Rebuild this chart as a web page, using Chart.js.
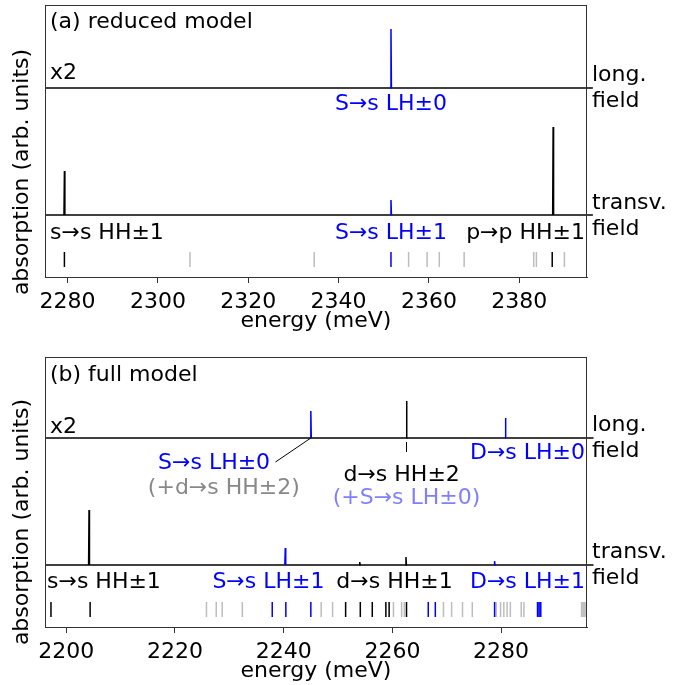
<!DOCTYPE html>
<html><head><meta charset="utf-8">
<script src="https://cdn.jsdelivr.net/npm/chart.js@4.4.1/dist/chart.umd.min.js"></script>
<style>
html,body{margin:0;padding:0;background:#fff;}
#wrap{position:relative;width:685px;height:685px;background:#fff;}
canvas{position:absolute;left:0;}
</style></head><body>
<div id="wrap">
<canvas id="ca" width="685" height="345" style="top:0px"></canvas>
<canvas id="cb" width="685" height="340" style="top:345px"></canvas>
</div>
<script>
// ---------------- data ----------------
// x tick labels (meV)
const ticksA = [2280, 2300, 2320, 2340, 2360, 2380];
const ticksB = [2200, 2220, 2240, 2260, 2280];

// panel (a) reduced model: peak energies (meV), heights (arb.), colours
const aLongE = [2351.6];
const aLongH = [59];
const aLongC = ['blue'];
const aTransE = [2279.3, 2351.6, 2387.5];
const aTransH = [44, 15, 88];
const aTransC = ['black', 'blue', 'black'];
// transition sticks (meV)
const aStickBlack = [2279.3, 2387.3];
const aStickBlue = [2351.6];
const aStickGray = [2307.1, 2334.6, 2355.5, 2359.6, 2362.3, 2367.8, 2383.2, 2383.8, 2390.0];

// panel (b) full model
const bLongE = [2245.0, 2262.6, 2280.8];
const bLongH = [27, 37, 20];
const bLongC = ['blue', 'black', 'blue'];
const bTransE = [2204.2, 2240.3, 2254.0, 2262.5, 2278.8];
const bTransH = [55, 17, 3, 8, 4];
const bTransC = ['black', 'blue', 'black', 'black', 'blue'];
const bStickBlack = [2197.2, 2204.4, 2251.4, 2254.1, 2256.3, 2258.8, 2259.4, 2262.6];
const bStickBlue = [2237.9, 2240.4, 2245.0, 2266.6, 2267.9, 2278.8, 2286.7, 2287.0, 2287.3];
const bStickGray = [2225.8, 2227.6, 2228.7, 2232.4, 2246.9, 2249.0, 2260.2, 2261.7, 2262.2,
  2269.4, 2270.9, 2272.9, 2274.7, 2279.1, 2279.9, 2280.5, 2281.1, 2281.7, 2283.7, 2284.2,
  2294.8, 2295.1, 2295.4, 2295.7];

// ---------------- styling / layout ----------------
const FONT = 'DejaVu Sans';
const FS = 22;
const BLUE = '#0000ff';
const GRAYSTICK = '#bdbdbd';
const LONG_BASE = 189, TRANS_BASE = 62, STICK_LO = 10, STICK_HI = 25;

function colorOf(c){ return c === 'blue' ? BLUE : '#000000'; }

function peakSets(E, H, C, base, hw){
  return E.map((e, i) => ({
    data: [{x: e - hw, y: base}, {x: e, y: base + H[i]}, {x: e + hw, y: base}],
    borderColor: colorOf(C[i]), borderWidth: 1.5, showLine: true, pointRadius: 0,
    tension: 0, clip: false, order: 1
  }));
}
function baseSet(xmin, xend, base){
  return {data: [{x: xmin, y: base}, {x: xend, y: base}], borderColor: '#000', borderWidth: 1.5,
    showLine: true, pointRadius: 0, clip: false, order: 5};
}
function stickSet(E, color){
  const d = [];
  E.forEach(e => { d.push({x: e, y: STICK_LO}, {x: e, y: STICK_HI}, {x: e, y: null}); });
  return {data: d, borderColor: color, borderWidth: 1.5, showLine: true, pointRadius: 0,
    spanGaps: false, order: color === GRAYSTICK ? 4 : 3};
}

function notesPlugin(cfg){
  return {
    id: 'notes',
    afterDraw(chart){
      const ctx = chart.ctx, ca = chart.chartArea;
      const xs = chart.scales.x, ys = chart.scales.y;
      ctx.save();
      // frame
      ctx.strokeStyle = '#333'; ctx.lineWidth = 1;
      ctx.strokeRect(Math.round(ca.left) + 0.5, Math.round(ca.top) + 0.5,
        Math.round(ca.right - ca.left) - 1, Math.round(ca.bottom - ca.top));
      // extra lines
      (cfg.lines || []).forEach(l => {
        ctx.strokeStyle = l.color || '#000'; ctx.lineWidth = 1;
        ctx.beginPath();
        ctx.moveTo(xs.getPixelForValue(l.x1), ys.getPixelForValue(l.y1));
        ctx.lineTo(xs.getPixelForValue(l.x2), ys.getPixelForValue(l.y2));
        ctx.stroke();
      });
      // texts
      ctx.font = FS + 'px "' + FONT + '"';
      ctx.textBaseline = 'middle';
      (cfg.texts || []).forEach(t => {
        let x;
        if (t.pos === 'left') x = ca.left + t.dx;
        else if (t.pos === 'right') x = ca.right + t.dx;
        else x = xs.getPixelForValue(t.x);
        ctx.textAlign = t.align || 'left';
        ctx.fillStyle = t.color || '#000';
        ctx.fillText(t.text, x, ys.getPixelForValue(t.y));
      });
      // y label
      ctx.translate(cfg.ylab.x, cfg.ylab.y);
      ctx.rotate(-Math.PI / 2);
      ctx.textAlign = 'center'; ctx.fillStyle = '#000';
      ctx.fillText('absorption (arb. units)', 0, 0);
      ctx.restore();
    }
  };
}

function makeChart(id, xmin, xmax, ymax, ticks, datasets, padBottom, notes){
  return new Chart(document.getElementById(id), {
    type: 'scatter',
    data: {datasets},
    options: {
      responsive: false, animation: false, events: [],
      layout: {padding: {left: 45, right: 98, top: id === 'ca' ? 5 : 12, bottom: padBottom}},
      plugins: {legend: {display: false}, tooltip: {enabled: false}},
      scales: {
        x: {
          type: 'linear', min: xmin, max: xmax,
          afterBuildTicks: s => { s.ticks = ticks.map(v => ({value: v})); },
          afterFit: s => { s.height = 57; },
          grid: {drawOnChartArea: false, drawTicks: true, tickLength: 6, color: '#333', tickWidth: 1},
          border: {display: true, color: '#333', width: 1},
          ticks: {font: {family: FONT, size: FS}, color: '#000', padding: 6, maxRotation: 0, autoSkip: false,
                  callback: v => String(v)},
          title: {display: true, text: 'energy (meV)', color: '#000', font: {family: FONT, size: FS}, padding: {top: 0, bottom: 0}}
        },
        y: {display: false, min: 0, max: ymax}
      }
    },
    plugins: [notesPlugin(notes)]
  });
}

// ---------------- panel (a) ----------------
const dsA = [].concat(
  peakSets(aLongE, aLongH, aLongC, LONG_BASE, 0.1),
  peakSets(aTransE, aTransH, aTransC, TRANS_BASE, 0.1),
  [baseSet(2275, 2396.3, LONG_BASE), baseSet(2275, 2396.3, TRANS_BASE)],
  [stickSet(aStickBlack, '#000'), stickSet(aStickBlue, BLUE), stickSet(aStickGray, GRAYSTICK)]
);
makeChart('ca', 2275, 2395, 272, ticksA, dsA, 11, {
  texts: [
    {text: '(a) reduced model', pos: 'left', dx: 5, y: 255},
    {text: 'x2', pos: 'left', dx: 5, y: 204},
    {text: 'S\u2192s LH\u00b10', x: 2351.6, align: 'center', y: 173, color: BLUE},
    {text: 's\u2192s HH\u00b11', pos: 'left', dx: 5, y: 44},
    {text: 'S\u2192s LH\u00b11', x: 2351.6, align: 'center', y: 44, color: BLUE},
    {text: 'p\u2192p HH\u00b11', pos: 'right', dx: -2, align: 'right', y: 44},
    {text: 'long.', pos: 'right', dx: 5, y: 202},
    {text: 'field', pos: 'right', dx: 5, y: 176},
    {text: 'transv.', pos: 'right', dx: 5, y: 74},
    {text: 'field', pos: 'right', dx: 5, y: 48}
  ],
  lines: [],
  ylab: {x: 22, y: 172}
});

// ---------------- panel (b) ----------------
const dsB = [].concat(
  peakSets(bLongE, bLongH, bLongC, LONG_BASE, 0.08),
  peakSets(bTransE, bTransH, bTransC, TRANS_BASE, 0.08),
  [baseSet(2196.1, 2297.0, LONG_BASE), baseSet(2196.1, 2297.0, TRANS_BASE)],
  [stickSet(bStickBlack, '#000'), stickSet(bStickBlue, BLUE), stickSet(bStickGray, GRAYSTICK)]
);
makeChart('cb', 2196.1, 2295.8, 270, ticksB, dsB, 1, {
  texts: [
    {text: '(b) full model', pos: 'left', dx: 5, y: 252},
    {text: 'x2', pos: 'left', dx: 5, y: 200},
    {text: 'S\u2192s LH\u00b10', x: 2227.2, align: 'center', y: 164, color: BLUE},
    {text: '(+d\u2192s HH\u00b12)', x: 2229.0, align: 'center', y: 139, color: '#888888'},
    {text: 'd\u2192s HH\u00b12', x: 2261.7, align: 'center', y: 152},
    {text: '(+S\u2192s LH\u00b10)', x: 2262.6, align: 'center', y: 129, color: '#8080ff'},
    {text: 'D\u2192s LH\u00b10', pos: 'right', dx: -2, align: 'right', y: 174, color: BLUE},
    {text: 's\u2192s HH\u00b11', pos: 'left', dx: 2, y: 45},
    {text: 'S\u2192s LH\u00b11', x: 2237.2, align: 'center', y: 45, color: BLUE},
    {text: 'd\u2192s HH\u00b11', x: 2260.4, align: 'center', y: 45},
    {text: 'D\u2192s LH\u00b11', pos: 'right', dx: -2, align: 'right', y: 45, color: BLUE},
    {text: 'long.', pos: 'right', dx: 5, y: 202},
    {text: 'field', pos: 'right', dx: 5, y: 176},
    {text: 'transv.', pos: 'right', dx: 5, y: 75},
    {text: 'field', pos: 'right', dx: 5, y: 49}
  ],
  lines: [
    {x1: 2245.0, y1: LONG_BASE, x2: 2238.5, y2: 165},
    {x1: 2262.6, y1: 185, x2: 2262.6, y2: 175}
  ],
  ylab: {x: 22, y: 177}
});
</script>
</body></html>
